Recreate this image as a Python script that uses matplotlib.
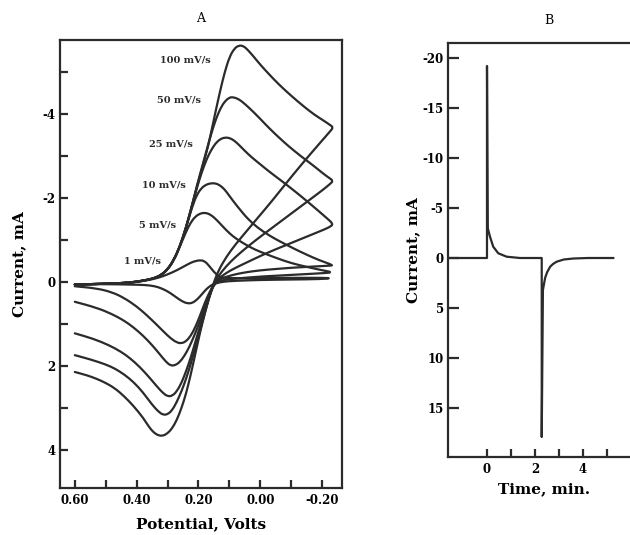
import matplotlib
matplotlib.use("Agg")
import matplotlib.pyplot as plt
from matplotlib.path import Path
from matplotlib.patches import PathPatch

plt.rcParams['font.family'] = ['DejaVu Serif']
plt.rcParams['axes.unicode_minus'] = False

# ---- panel A: cyclic voltammograms (potential V, current mA; anodic current is negative)
scan_labels = ['100 mV/s', '50 mV/s', '25 mV/s', '10 mV/s', '5 mV/s', '1 mV/s']

e_100 = [0.60, 0.55, 0.50, 0.46, 0.42, 0.39, 0.36, 0.34, 0.32, 0.30, 0.28, 0.26, 0.24, 0.22,
         0.20, 0.185, 0.17, 0.158, 0.145, 0.13, 0.115, 0.10, 0.085, 0.07, 0.055, 0.04, 0.02, 0.0,
         -0.03, -0.06, -0.10, -0.14, -0.175, -0.205, -0.225, -0.236,
         -0.225, -0.2, -0.16, -0.12, -0.08, -0.04, 0.0, 0.04, 0.08, 0.11, 0.135, 0.15, 0.165, 0.18,
         0.195, 0.21, 0.225, 0.24, 0.255, 0.27, 0.285, 0.30, 0.315, 0.33, 0.345, 0.36, 0.38, 0.41,
         0.44, 0.47, 0.50, 0.53, 0.56, 0.60]
i_100 = [0.06, 0.05, 0.04, 0.03, 0.01, -0.02, -0.06, -0.1, -0.17, -0.3, -0.52, -0.85, -1.3, -1.85,
         -2.4, -2.8, -3.2, -3.6, -4.05, -4.55, -5.0, -5.35, -5.55, -5.63, -5.62, -5.52, -5.35, -5.17,
         -4.93, -4.7, -4.43, -4.18, -3.98, -3.84, -3.74, -3.68,
         -3.58, -3.37, -3.03, -2.68, -2.32, -1.95, -1.6, -1.25, -0.9, -0.6, -0.28, 0.0, 0.35, 0.75,
         1.2, 1.7, 2.2, 2.65, 3.0, 3.28, 3.48, 3.6, 3.66, 3.65, 3.58, 3.45, 3.22, 2.95,
         2.72, 2.53, 2.4, 2.3, 2.22, 2.14]

e_50 = [0.60, 0.55, 0.50, 0.46, 0.42, 0.39, 0.36, 0.34, 0.32, 0.30, 0.28, 0.26, 0.24, 0.22,
        0.205, 0.19, 0.175, 0.16, 0.145, 0.13, 0.115, 0.10, 0.09, 0.075, 0.06, 0.04, 0.02, 0.0,
        -0.03, -0.06, -0.09, -0.13, -0.17, -0.2, -0.22, -0.236,
        -0.225, -0.2, -0.16, -0.12, -0.08, -0.04, 0.0, 0.04, 0.08, 0.11, 0.135, 0.15, 0.165, 0.18,
        0.195, 0.21, 0.225, 0.24, 0.255, 0.27, 0.285, 0.30, 0.315, 0.33, 0.35, 0.38, 0.41, 0.44,
        0.47, 0.50, 0.55, 0.60]
i_50 = [0.06, 0.05, 0.04, 0.03, 0.01, -0.02, -0.06, -0.1, -0.17, -0.3, -0.52, -0.85, -1.3, -1.85,
        -2.3, -2.7, -3.1, -3.5, -3.85, -4.12, -4.3, -4.39, -4.40, -4.37, -4.3, -4.17, -4.03, -3.88,
        -3.65, -3.44, -3.24, -3.0, -2.78, -2.6, -2.49, -2.41,
        -2.33, -2.18, -1.96, -1.74, -1.52, -1.3, -1.08, -0.85, -0.6, -0.38, -0.15, 0.02, 0.35, 0.75,
        1.15, 1.55, 1.95, 2.3, 2.6, 2.85, 3.05, 3.15, 3.16, 3.08, 2.92, 2.62, 2.38, 2.2,
        2.06, 1.96, 1.84, 1.74]

e_25 = [0.60, 0.55, 0.50, 0.46, 0.42, 0.39, 0.36, 0.34, 0.32, 0.30, 0.28, 0.26, 0.24, 0.22,
        0.205, 0.19, 0.175, 0.16, 0.145, 0.13, 0.115, 0.10, 0.085, 0.07, 0.05, 0.03, 0.0,
        -0.03, -0.07, -0.11, -0.15, -0.19, -0.215, -0.236,
        -0.225, -0.2, -0.16, -0.12, -0.08, -0.04, 0.0, 0.04, 0.08, 0.11, 0.135, 0.15, 0.165, 0.18,
        0.195, 0.21, 0.225, 0.24, 0.255, 0.27, 0.285, 0.30, 0.315, 0.335, 0.36, 0.39, 0.42, 0.45,
        0.49, 0.54, 0.60]
i_25 = [0.06, 0.05, 0.04, 0.03, 0.01, -0.02, -0.06, -0.1, -0.17, -0.3, -0.52, -0.85, -1.3, -1.85,
        -2.25, -2.6, -2.9, -3.13, -3.3, -3.4, -3.44, -3.43, -3.37, -3.27, -3.12, -2.98, -2.8,
        -2.62, -2.4, -2.17, -1.93, -1.68, -1.52, -1.38,
        -1.31, -1.23, -1.11, -0.99, -0.87, -0.75, -0.62, -0.48, -0.34, -0.22, -0.08, 0.05, 0.35, 0.7,
        1.05, 1.42, 1.8, 2.12, 2.4, 2.6, 2.71, 2.72, 2.64, 2.48, 2.26, 2.02, 1.82, 1.66,
        1.5, 1.35, 1.22]

e_10 = [0.60, 0.55, 0.50, 0.46, 0.42, 0.39, 0.36, 0.34, 0.32, 0.30, 0.28, 0.26, 0.24, 0.22,
        0.205, 0.19, 0.175, 0.16, 0.145, 0.13, 0.115, 0.10, 0.085, 0.06, 0.04, 0.01,
        -0.03, -0.07, -0.11, -0.15, -0.19, -0.236,
        -0.225, -0.2, -0.15, -0.1, -0.05, 0.0, 0.05, 0.09, 0.12, 0.14, 0.155, 0.17, 0.185, 0.2,
        0.215, 0.23, 0.245, 0.26, 0.275, 0.29, 0.305, 0.325, 0.35, 0.38, 0.41, 0.44, 0.48, 0.53, 0.60]
i_10 = [0.06, 0.05, 0.04, 0.03, 0.01, -0.02, -0.06, -0.1, -0.17, -0.3, -0.52, -0.85, -1.3, -1.8,
        -2.08, -2.24, -2.32, -2.35, -2.35, -2.3, -2.2, -2.05, -1.9, -1.67, -1.5, -1.3,
        -1.1, -0.94, -0.79, -0.65, -0.52, -0.40,
        -0.39, -0.38, -0.36, -0.34, -0.31, -0.28, -0.23, -0.17, -0.1, -0.02, 0.12, 0.4, 0.72, 1.02,
        1.3, 1.55, 1.75, 1.9, 1.98, 1.99, 1.9, 1.72, 1.5, 1.27, 1.08, 0.92, 0.76, 0.61, 0.47]

e_5 = [0.60, 0.55, 0.50, 0.46, 0.42, 0.39, 0.36, 0.34, 0.32, 0.30, 0.28, 0.26, 0.24, 0.225,
       0.21, 0.195, 0.18, 0.165, 0.15, 0.135, 0.12, 0.10, 0.08, 0.05, 0.02, -0.02, -0.06, -0.1,
       -0.15, -0.2, -0.236,
       -0.2, -0.15, -0.1, -0.05, 0.0, 0.05, 0.1, 0.13, 0.15, 0.165, 0.18, 0.195, 0.21, 0.225, 0.24,
       0.255, 0.27, 0.29, 0.31, 0.34, 0.37, 0.40, 0.44, 0.48, 0.53, 0.60]
i_5 = [0.06, 0.05, 0.04, 0.03, 0.01, -0.02, -0.06, -0.1, -0.17, -0.3, -0.52, -0.85, -1.2, -1.42,
       -1.56, -1.63, -1.65, -1.62, -1.54, -1.43, -1.31, -1.16, -1.04, -0.9, -0.78, -0.66, -0.55, -0.45,
       -0.36, -0.28, -0.23,
       -0.21, -0.19, -0.17, -0.15, -0.13, -0.1, -0.07, -0.03, 0.05, 0.25, 0.5, 0.8, 1.07, 1.28, 1.41,
       1.46, 1.44, 1.34, 1.2, 0.98, 0.77, 0.58, 0.38, 0.24, 0.15, 0.1]

e_1 = [0.60, 0.55, 0.50, 0.46, 0.42, 0.39, 0.36, 0.33, 0.30, 0.27, 0.245, 0.225, 0.21, 0.195,
       0.18, 0.165, 0.15, 0.135, 0.12, 0.08, 0.0, -0.1, -0.236,
       -0.2, -0.1, 0.0, 0.08, 0.12, 0.145, 0.16, 0.175, 0.19, 0.205, 0.22, 0.235, 0.25, 0.265, 0.28,
       0.30, 0.32, 0.34, 0.37, 0.42, 0.50, 0.60]
i_1 = [0.06, 0.05, 0.04, 0.03, 0.01, -0.01, -0.05, -0.1, -0.18, -0.28, -0.38, -0.46, -0.5, -0.52,
       -0.5, -0.38, -0.24, -0.14, -0.1, -0.09, -0.1, -0.1, -0.1,
       -0.07, -0.06, -0.05, -0.03, -0.01, 0.03, 0.08, 0.17, 0.3, 0.42, 0.5, 0.51, 0.47, 0.4, 0.32,
       0.22, 0.15, 0.1, 0.07, 0.06, 0.05, 0.05]

a_xticks = [0.60, 0.50, 0.40, 0.30, 0.20, 0.10, 0.00, -0.10, -0.20]
a_xticklabels = ['0.60', '', '0.40', '', '0.20', '', '0.00', '', '-0.20']
a_yticks = [-5, -4, -3, -2, -1, 0, 1, 2, 3, 4]
a_yticklabels = ['', '-4', '', '-2', '', '0', '', '2', '', '4']

# ---- panel B: chronoamperometry (time min, current mA)
t_b = [-1.7, 0.0, 0.0, 0.03, 0.125, 0.26, 0.47, 0.82, 1.375, 2.28, 2.28, 2.33, 2.42, 2.5, 2.63, 2.75,
       2.9, 3.2, 3.6, 4.2, 5.26]
i_b = [0.0, 0.0, -19.2, -3.0, -2.13, -1.13, -0.47, -0.13, 0.0, 0.0, 17.9, 3.2, 2.0, 1.45, 0.87, 0.6,
       0.37, 0.15, 0.05, 0.0, 0.0]
b_xticks = [0, 1, 2, 3, 4, 5]
b_xticklabels = ['0', '', '2', '', '4', '']
b_yticks = [-20, -15, -10, -5, 0, 5, 10, 15]
b_yticklabels = ['-20', '-15', '-10', '-5', '0', '5', '10', '15']

col = '#2b2b2b'


def smooth_curve(ax, xs, ys):
    # draw a polyline as a chain of quadratic Bezier pieces (the read points act as control points)
    verts = [(xs[0], ys[0])]
    codes = [Path.MOVETO]
    for k in range(1, len(xs) - 1):
        mx = (xs[k] + xs[k + 1]) / 2
        my = (ys[k] + ys[k + 1]) / 2
        verts += [(xs[k], ys[k]), (mx, my)]
        codes += [Path.CURVE3, Path.CURVE3]
    verts.append((xs[-1], ys[-1]))
    codes.append(Path.LINETO)
    ax.add_patch(PathPatch(Path(verts, codes), fill=False, edgecolor=col, lw=1.6,
                           joinstyle='round', capstyle='round'))


fig = plt.figure(figsize=(6.3, 5.35), dpi=100)

axa = fig.add_axes([0.0952, 0.0879, 0.4476, 0.8374])
curves = [(e_100, i_100), (e_50, i_50), (e_25, i_25), (e_10, i_10), (e_5, i_5), (e_1, i_1)]
for e, i in curves:
    smooth_curve(axa, e, i)
axa.set_xlim(0.648, -0.264)
axa.set_ylim(4.90, -5.76)
axa.set_xticks(a_xticks)
axa.set_xticklabels(a_xticklabels)
axa.set_yticks(a_yticks)
axa.set_yticklabels(a_yticklabels)
axa.set_title('A', fontsize=9, pad=13)
axa.set_xlabel('Potential, Volts', fontsize=11, fontweight='bold', labelpad=8)
axa.set_ylabel('Current, mA', fontsize=11, fontweight='bold', labelpad=12)

label_pos = [(0.244, -5.29), (0.263, -4.33), (0.289, -3.29), (0.312, -2.31), (0.334, -1.36), (0.382, -0.50)]
for txt, (x, y) in zip(scan_labels, label_pos):
    axa.text(x, y, txt, fontsize=7, fontweight='bold', ha='center', va='center', color=col)

axb = fig.add_axes([0.7111, 0.1458, 0.3048, 0.7738])
axb.plot(t_b, i_b, color=col, lw=1.6)
axb.set_xlim(-1.625, 6.375)
axb.set_ylim(19.9, -21.5)
axb.set_xticks(b_xticks)
axb.set_xticklabels(b_xticklabels)
axb.set_yticks(b_yticks)
axb.set_yticklabels(b_yticklabels)
axb.spines['right'].set_visible(False)
axb.set_xlabel('Time, min.', fontsize=11, fontweight='bold', labelpad=5)
axb.set_ylabel('Current, mA', fontsize=11, fontweight='bold', labelpad=2)
fig.text(549 / 630, 1 - 20 / 535, 'B', fontsize=9, ha='center', va='center')

for ax in (axa, axb):
    for s in ax.spines.values():
        s.set_linewidth(1.6)
        s.set_color(col)
    ax.tick_params(direction='in', length=6, width=1.6, labelsize=8.5, pad=4, color=col)
    for lab in ax.get_xticklabels() + ax.get_yticklabels():
        lab.set_fontweight('bold')
axb.tick_params(axis='y', length=8, pad=3)
axa.tick_params(axis='y', pad=3)

fig.savefig('out.png', dpi=100)
